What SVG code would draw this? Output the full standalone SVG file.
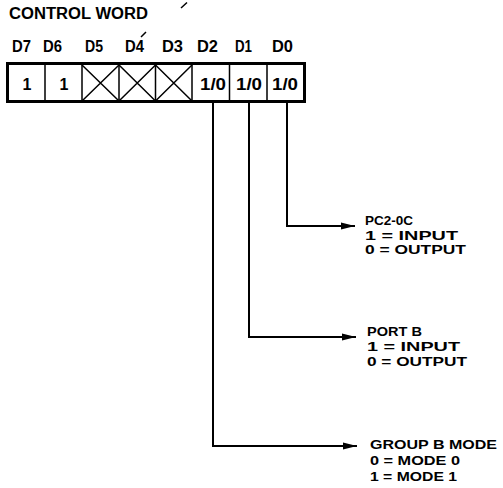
<svg xmlns="http://www.w3.org/2000/svg" width="503" height="488" viewBox="0 0 503 488">
<defs>
<style>
text{font-family:"Liberation Sans",Arial,sans-serif;font-weight:bold;fill:#000}
.h{font-size:16px}
.c{font-size:16px;text-anchor:middle}
.l{font-size:13px}
.w{stroke:#000;stroke-width:2;fill:none}
.d{stroke:#000;stroke-width:1.5;fill:none}
</style>
<marker id="ah" viewBox="0 0 14 8" refX="14" refY="4" markerWidth="14" markerHeight="8" markerUnits="userSpaceOnUse" orient="auto">
<path d="M0,0.5 L14,4 L0,7.5 Z" fill="#000"/>
</marker>
</defs>
<rect width="503" height="488" fill="#fff"/>
<text class="h" x="9" y="19" textLength="139" lengthAdjust="spacingAndGlyphs">CONTROL WORD</text>
<path class="d" d="M181,8 L187,2.5 M141,37 L146,32"/>
<g id="labels">
<text class="h" x="12" y="52" textLength="19" lengthAdjust="spacingAndGlyphs">D7</text>
<text class="h" x="43" y="52" textLength="19" lengthAdjust="spacingAndGlyphs">D6</text>
<text class="h" x="85" y="52" textLength="18" lengthAdjust="spacingAndGlyphs">D5</text>
<text class="h" x="125" y="52" textLength="19" lengthAdjust="spacingAndGlyphs">D4</text>
<text class="h" x="162" y="52" textLength="21" lengthAdjust="spacingAndGlyphs">D3</text>
<text class="h" x="197" y="52" textLength="21" lengthAdjust="spacingAndGlyphs">D2</text>
<text class="h" x="235" y="52" textLength="17" lengthAdjust="spacingAndGlyphs">D1</text>
<text class="h" x="272" y="52" textLength="21" lengthAdjust="spacingAndGlyphs">D0</text>
</g>
<g id="register">
<rect x="7.5" y="63.5" width="297" height="38" fill="none" stroke="#000" stroke-width="3"/>
<path class="d" d="M45,63 V102 M82,63 V102 M119,63 V102 M155.5,63 V102 M192,63 V102 M229.5,63 V102 M267,63 V102"/>
<path class="d" d="M82,65 L119,101 M119,65 L82,101 M119,65 L155.5,101 M155.5,65 L119,101 M155.5,65 L192,101 M192,65 L155.5,101"/>
<text class="c" x="27" y="90">1</text>
<text class="c" x="64" y="90">1</text>
<text class="c" x="213" y="90" textLength="26" lengthAdjust="spacingAndGlyphs">1/0</text>
<text class="c" x="249" y="90" textLength="26" lengthAdjust="spacingAndGlyphs">1/0</text>
<text class="c" x="285" y="90" textLength="26" lengthAdjust="spacingAndGlyphs">1/0</text>
</g>
<g id="connectors">
<path class="w" d="M287,103 V226 H355" marker-end="url(#ah)"/>
<path class="w" d="M249,103 V337 H356" marker-end="url(#ah)"/>
<path class="w" d="M213,103 V446 H357" marker-end="url(#ah)"/>
</g>
<g id="pc">
<text class="l" x="365" y="225" textLength="48" lengthAdjust="spacingAndGlyphs">PC2-0C</text>
<text class="l" x="365" y="239.5" textLength="93" lengthAdjust="spacingAndGlyphs">1 = INPUT</text>
<text class="l" x="365" y="254" textLength="101" lengthAdjust="spacingAndGlyphs">0 = OUTPUT</text>
</g>
<g id="portb">
<text class="l" x="367" y="336" textLength="55" lengthAdjust="spacingAndGlyphs">PORT B</text>
<text class="l" x="367" y="351" textLength="93" lengthAdjust="spacingAndGlyphs">1 = INPUT</text>
<text class="l" x="367" y="366" textLength="100" lengthAdjust="spacingAndGlyphs">0 = OUTPUT</text>
</g>
<g id="groupb">
<text class="l" x="370" y="449" textLength="127" lengthAdjust="spacingAndGlyphs">GROUP B MODE</text>
<text class="l" x="370" y="465" textLength="90" lengthAdjust="spacingAndGlyphs">0 = MODE 0</text>
<text class="l" x="370" y="481" textLength="87" lengthAdjust="spacingAndGlyphs">1 = MODE 1</text>
</g>
</svg>
